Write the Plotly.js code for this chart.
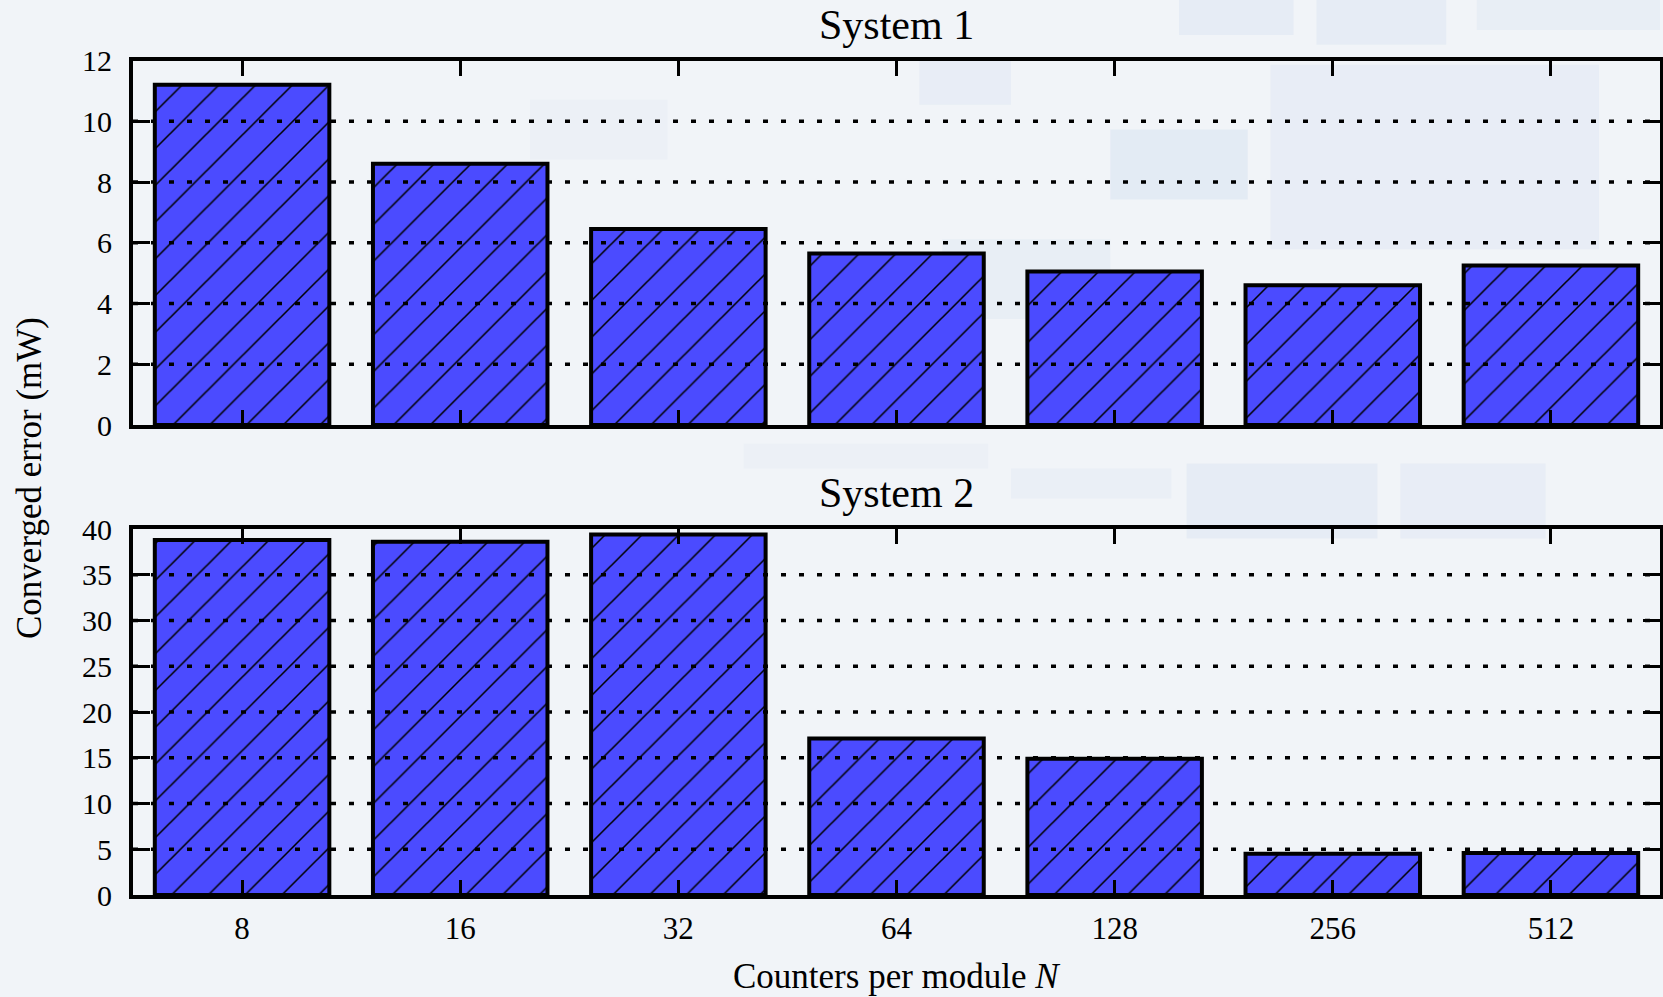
<!DOCTYPE html>
<html>
<head>
<meta charset="utf-8">
<script src="https://cdn.plot.ly/plotly-3.0.1.min.js"></script>
<style>html,body{margin:0;padding:0;background:#f1f4f8;}#chart{width:1663px;height:997px;}</style>
</head>
<body>
<div id="chart"></div>
<script>
// ---- data ----
const categories = ['8', '16', '32', '64', '128', '256', '512'];
const system1 = [11.2, 8.6, 6.45, 5.65, 5.05, 4.6, 5.25];
const system2 = [38.8, 38.6, 39.4, 17.1, 14.9, 4.5, 4.6];
const yTicks1 = [0, 2, 4, 6, 8, 10, 12];
const yTicks2 = [0, 5, 10, 15, 20, 25, 30, 35, 40];
const panelTitles = ['System 1', 'System 2'];
const xTitle = 'Counters per module <i>N</i>';
const yTitle = 'Converged error (mW)';

const FONT = 'Liberation Serif, Times New Roman, serif';
const BAR = '#4b4bff';

function barTrace(vals, xa, ya) {
  return {
    type: 'bar', x: categories, y: vals, xaxis: xa, yaxis: ya,
    width: 0.8, showlegend: false, hoverinfo: 'x+y',
    marker: {
      color: BAR,
      line: {color: '#000', width: 4},
      pattern: {shape: '/', fgcolor: '#000', bgcolor: BAR, size: 26, solidity: 0.06, fillmode: 'replace'}
    }
  };
}

const data = [barTrace(system1, 'x', 'y'), barTrace(system2, 'x2', 'y2')];

function xAxis(showLabels, anchor) {
  return {
    type: 'category', range: [-0.5, 6.5], anchor: anchor, domain: [0, 1],
    showline: true, linecolor: '#000', linewidth: 4, mirror: 'ticks',
    ticks: 'inside', ticklen: 15, tickwidth: 3, tickcolor: '#000',
    showgrid: false, zeroline: false, showticklabels: showLabels,
    tickfont: {family: FONT, size: 31, color: '#000'}, ticklabelstandoff: 3
  };
}
function yAxis(ticks, dom, anchor) {
  return {
    range: [ticks[0], ticks[ticks.length - 1]], domain: dom, anchor: anchor,
    tickmode: 'array', tickvals: ticks, ticktext: ticks.map(String),
    showline: true, linecolor: '#000', linewidth: 4, mirror: 'ticks',
    ticks: 'inside', ticklen: 17, tickwidth: 3, tickcolor: '#000',
    showgrid: false, zeroline: false,
    tickfont: {family: FONT, size: 30, color: '#000'}, ticklabelstandoff: 11
  };
}

const shapes = [];
// faint background decoration (slide background)
const deco = [
  [0.685, 0.000, 0.760, 0.035, 0.16], [0.775, 0.000, 0.860, 0.045, 0.16], [0.880, 0.000, 1.000, 0.030, 0.12],
  [0.640, 0.130, 0.730, 0.200, 0.20], [0.745, 0.065, 0.960, 0.250, 0.14], [0.515, 0.060, 0.575, 0.105, 0.14],
  [0.530, 0.240, 0.640, 0.320, 0.12], [0.260, 0.100, 0.350, 0.160, 0.08],
  [0.690, 0.465, 0.815, 0.540, 0.16], [0.830, 0.465, 0.925, 0.540, 0.14], [0.575, 0.470, 0.680, 0.500, 0.10],
  [0.400, 0.445, 0.560, 0.470, 0.08]
];
deco.forEach(d => shapes.push({
  type: 'rect', xref: 'paper', yref: 'paper', x0: d[0], x1: d[2], y0: 1 - d[1], y1: 1 - d[3],
  fillcolor: 'rgba(175,200,232,' + d[4] + ')', line: {width: 0}, layer: 'below'
}));
// dotted grid lines drawn over the bars
function grid(ticks, xref, yref) {
  ticks.slice(1, -1).forEach(v => shapes.push({
    type: 'line', xref: xref + ' domain', yref: yref, x0: 0, x1: 1, y0: v, y1: v,
    line: {color: '#000', width: 3.5, dash: '5px,13px'}, layer: 'above'
  }));
}
grid(yTicks1, 'x', 'y');
grid(yTicks2, 'x2', 'y2');

const annotations = [
  {text: panelTitles[0], xref: 'paper', yref: 'paper', x: 0.5, y: 1 - 25 / 997, showarrow: false,
   xanchor: 'center', yanchor: 'middle', font: {family: FONT, size: 42, color: '#000'}},
  {text: panelTitles[1], xref: 'paper', yref: 'paper', x: 0.5, y: 1 - 493 / 997, showarrow: false,
   xanchor: 'center', yanchor: 'middle', font: {family: FONT, size: 42, color: '#000'}},
  {text: xTitle, xref: 'paper', yref: 'paper', x: 0.5, y: 1 - 976 / 997, showarrow: false,
   xanchor: 'center', yanchor: 'middle', font: {family: FONT, size: 35, color: '#000'}},
  {text: yTitle, xref: 'paper', yref: 'paper', x: (30 - 133) / (1663 - 136), y: 1 - 478 / 997, showarrow: false,
   xanchor: 'center', yanchor: 'middle', textangle: -90, font: {family: FONT, size: 35, color: '#000'}}
];

const layout = {
  width: 1663, height: 997,
  margin: {l: 133, r: 3, t: 0, b: 0},
  paper_bgcolor: '#f1f4f8', plot_bgcolor: 'rgba(0,0,0,0)',
  font: {family: FONT, color: '#000'},
  bargap: 0.2,
  xaxis: xAxis(false, 'y'),
  yaxis: yAxis(yTicks1, [1 - 425 / 997, 1 - 60.5 / 997], 'x'),
  xaxis2: xAxis(true, 'y2'),
  yaxis2: yAxis(yTicks2, [1 - 895 / 997, 1 - 529 / 997], 'x2'),
  shapes: shapes,
  annotations: annotations
};

Plotly.newPlot('chart', data, layout, {displayModeBar: false, staticPlot: true});
</script>
</body>
</html>
